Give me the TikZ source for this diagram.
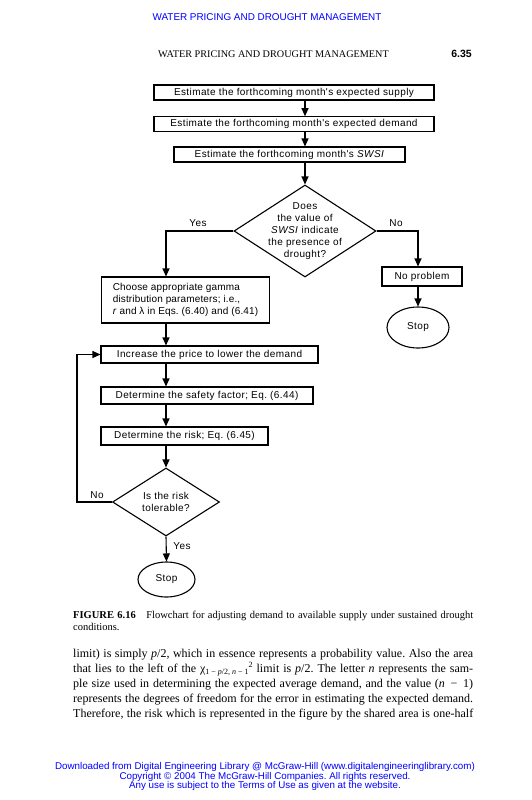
\documentclass[tikz,border=0pt]{standalone}
\usepackage{fontspec}
\setmainfont{Liberation Serif}
\newfontfamily\fcf[LetterSpace=4]{Liberation Sans}
\newfontfamily\fcfb[LetterSpace=1.5]{Liberation Sans}
\newfontfamily\arialf{Liberation Sans}
\usetikzlibrary{shapes.geometric,arrows.meta}
\definecolor{linkblue}{RGB}{0,0,255}
\frenchspacing
\begin{document}
\begin{tikzpicture}[x=1pt,y=-1pt,
  fc/.style={font=\fcf\fontsize{10}{12}\selectfont},
  box/.style={fc,draw,line width=1.1pt,inner sep=0pt},
  decision/.style={draw,diamond,inner sep=0pt,line width=1.1pt},
  term/.style={fc,draw,ellipse,inner sep=0pt,line width=1.1pt},
  arr/.style={-{Triangle[width=7pt,length=8pt]},line width=1.1pt},
  lbl/.style={fc,inner sep=0pt},
  bodytext/.style={inner sep=0pt,anchor=base west,font=\fontsize{12}{15}\selectfont},
  captext/.style={inner sep=0pt,anchor=base west,font=\fontsize{10.5}{12}\selectfont},
  foottext/.style={inner sep=0pt,anchor=base,text=linkblue,font=\arialf\fontsize{9.8}{10}\selectfont}]
\useasboundingbox (0,0) rectangle (531,800);
\fill[white] (0,0) rectangle (531,800);

% headers
\node[inner sep=0pt,anchor=base,text=linkblue,font=\arialf\fontsize{9.9}{12}\selectfont] (hdr) at (267,21) {WATER PRICING AND DROUGHT MANAGEMENT};
\node[inner sep=0pt,anchor=base west,font=\fontsize{10.2}{12}\selectfont] (rh) at (158,58) {WATER PRICING AND DROUGHT MANAGEMENT};
\node[inner sep=0pt,anchor=base east,font=\arialf\bfseries\fontsize{10.5}{12}\selectfont] (pg) at (472,58) {6.35};

% flowchart nodes
\node[box,minimum width=280pt,minimum height=15pt] (b1) at (294,92.5) {Estimate the forthcoming month's expected supply};
\node[box,minimum width=280pt,minimum height=14.5pt] (b2) at (294,124) {Estimate the forthcoming month's expected demand};
\node[box,minimum width=231pt,minimum height=15pt] (b3) at (289.5,154.5) {Estimate the forthcoming month's \textit{SWSI}};
\node[decision,minimum width=142pt,minimum height=92pt,
  label={[fc,align=center,inner sep=0pt]center:Does\\the value of\\\textit{SWSI} indicate\\the presence of\\drought?}] (d1) at (305,231) {};
\node[box,anchor=west,minimum width=168pt,minimum height=46pt,inner xsep=10pt,align=left,font=\fcfb\fontsize{10}{12}\selectfont] (b4) at (101,300)
  {Choose appropriate gamma\\distribution parameters; i.e.,\\\textit{r} and λ in Eqs. (6.40) and (6.41)};
\node[box,minimum width=80pt,minimum height=19pt] (b5) at (422,276.5) {No problem};
\node[term,minimum width=62pt,minimum height=41pt] (s1) at (418,327.5) {Stop};
\node[box,minimum width=217pt,minimum height=17pt] (b6) at (209.5,354.5) {Increase the price to lower the demand};
\node[box,minimum width=212pt,minimum height=17pt] (b7) at (207,395.5) {Determine the safety factor; Eq. (6.44)};
\node[box,minimum width=167pt,minimum height=18pt] (b8) at (184.5,436) {Determine the risk; Eq. (6.45)};
\node[decision,minimum width=107pt,minimum height=68pt,
  label={[fc,align=center,inner sep=0pt]center:Is the risk\\tolerable?}] (d2) at (166,502) {};
\node[term,minimum width=57pt,minimum height=35pt] (s2) at (166.5,579.5) {Stop};
\coordinate (lp) at (77,502);

% connectors
\draw[arr] (b1.south -| d1.north) -- (b2.north -| d1.north);
\draw[arr] (b2.south -| d1.north) -- (b3.north -| d1.north);
\draw[arr] (b3.south -| d1.north) -- (d1.north);
\draw[arr] (d1.west) -| (b4.north -| d2.north);
\draw[arr] (d1.east) -| (b5.north -| s1.north);
\draw[arr] (b5.south -| s1.north) -- (s1.north);
\draw[arr] (b4.south -| d2.north) -- (b6.north -| d2.north);
\draw[arr] (b6.south -| d2.north) -- (b7.north -| d2.north);
\draw[arr] (b7.south -| d2.north) -- (b8.north -| d2.north);
\draw[arr] (b8.south -| d2.north) -- (d2.north);
\draw[arr] (d2.south) -- (s2.north);
\draw[arr] (d2.west) -- (lp) |- (b6.west);

% branch labels
\node[lbl] (yes1) at (198,223) {Yes};
\node[lbl] (no1) at (396,223) {No};
\node[lbl] (no2) at (97,495) {No};
\node[lbl] (yes2) at (182,546) {Yes};

% caption
\node[captext] (c1) at (73,618) {\makebox[400pt][s]{\textbf{FIGURE 6.16}\hspace{1em}Flowchart for adjusting demand to available supply under sustained drought}};
\node[captext] (c2) at (73,630) {conditions.};

% body text
\node[bodytext] (t1) at (73,657) {\makebox[400pt][s]{limit) is simply \textit{p}/2, which in essence represents a probability value. Also the area}};
\node[bodytext] (t2) at (73,672) {\makebox[400pt][s]{that lies to the left of the χ\raisebox{-2.5pt}{\fontsize{8}{8}\selectfont 1 − \textit{p}/2, \textit{n} − 1}\raisebox{4.5pt}{\fontsize{8}{8}\selectfont 2} limit is \textit{p}/2. The letter \textit{n} represents the sam-}};
\node[bodytext] (t3) at (73,687) {\makebox[400pt][s]{ple size used in determining the expected average demand, and the value (\textit{n} \,−\, 1)}};
\node[bodytext] (t4) at (73,702) {\makebox[400pt][s]{represents the degrees of freedom for the error in estimating the expected demand.}};
\node[bodytext] (t5) at (73,717) {\makebox[400pt][s]{Therefore, the risk which is represented in the figure by the shared area is one-half}};

% footer
\node[foottext] (f1) at (265,769) {Downloaded from Digital Engineering Library @ McGraw-Hill (www.digitalengineeringlibrary.com)};
\node[foottext] (f2) at (265,779) {Copyright © 2004 The McGraw-Hill Companies. All rights reserved.};
\node[foottext] (f3) at (265,788.5) {Any use is subject to the Terms of Use as given at the website.};
\end{tikzpicture}
\end{document}
